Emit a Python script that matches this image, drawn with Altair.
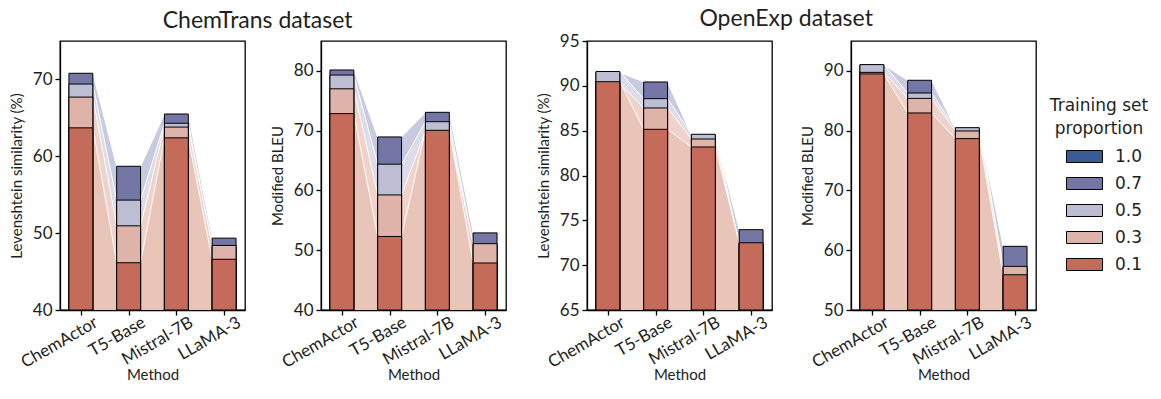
import json
import altair as alt
import pandas as pd

# ---------------- data ----------------
methods = ["ChemActor", "T5-Base", "Mistral-7B", "LLaMA-3"]
proportions = ["1.0", "0.7", "0.5", "0.3", "0.1"]
drawn_props = ["0.7", "0.5", "0.3", "0.1"]   # back to front

# values per proportion, ordered as in `methods`
chemtrans_lev = {
    "0.7": [70.8, 58.7, 65.5, 49.35],
    "0.5": [69.4, 54.3, 64.3, 48.2],
    "0.3": [67.7, 50.95, 63.8, 48.4],
    "0.1": [63.7, 46.15, 62.4, 46.6],
}
chemtrans_bleu = {
    "0.7": [80.15, 68.95, 73.07, 52.9],
    "0.5": [79.3, 64.4, 71.5, 50.9],
    "0.3": [77.0, 59.25, 69.9, 51.1],
    "0.1": [72.85, 52.3, 70.06, 47.86],
}
openexp_lev = {
    "0.7": [91.5, 90.43, 84.5, 73.96],
    "0.5": [91.6, 88.57, 84.6, 72.3],
    "0.3": [90.3, 87.53, 84.07, 72.4],
    "0.1": [90.46, 85.15, 83.18, 72.5],
}
openexp_bleu = {
    "0.7": [91.0, 88.43, 80.4, 60.65],
    "0.5": [91.05, 86.3, 80.5, 57.0],
    "0.3": [89.75, 85.4, 79.95, 57.3],
    "0.1": [89.5, 82.96, 78.67, 55.9],
}

# ---------------- styles ----------------
bar_colors = ["#3a5a98", "#7477a6", "#bdbdd4", "#deb3a9", "#c46b5a"]
flow_colors = {"0.7": "#c8cadf", "0.5": "#dcdcea", "0.3": "#efd3ca", "0.1": "#e8c4b9"}
FONT = "Lato"
TXT = "#231f20"
PW, PH = 185, 269
HALF = 0.25
XDOM = [-0.4375, 3.4375]

label_expr = json.dumps(methods) + "[datum.value]"


def panel(vals, ymin, ymax, step, ytitle):
    rank = {p: k for k, p in enumerate(drawn_props)}
    rows = []
    for p in drawn_props:
        for i, m in enumerate(methods):
            rows.append({"method": m, "idx": i, "prop": p, "value": vals[p][i], "rank": rank[p]})
    df = pd.DataFrame(rows)

    xaxis = alt.Axis(values=[0, 1, 2, 3], labelExpr=label_expr, labelAngle=-30,
                     labelAlign="right", labelBaseline="top", labelOffset=11, labelPadding=-1,
                     labelOverlap=False, tickSize=5, title="Method", titleY=57,
                     titleBaseline="top", titleFontSize=15)
    yaxis = alt.Axis(values=list(range(ymin, ymax + 1, step)), tickSize=5, title=ytitle,
                     titlePadding=8, labelPadding=3)
    xs = alt.Scale(domain=XDOM, nice=False, zero=False)
    ys = alt.Scale(domain=[ymin, ymax], nice=False, zero=False)

    layers = []
    for p in drawn_props:
        base = (alt.Chart(df)
                .transform_filter(alt.datum.prop == p)
                .transform_calculate(edges=f"[datum.idx - {HALF}, datum.idx + {HALF}]")
                .transform_flatten(["edges"]))
        enc = dict(x=alt.X("edges:Q", scale=xs, axis=xaxis),
                   y=alt.Y("value:Q", scale=ys, axis=yaxis))
        layers.append(base.mark_area(fill=flow_colors[p]).encode(y2=alt.datum(ymin), **enc))
        layers.append(base.mark_line(color="white", strokeWidth=1).encode(**enc))

    bars = (alt.Chart(df)
            .transform_calculate(xa=f"datum.idx - {HALF}", xb=f"datum.idx + {HALF}")
            .mark_bar(stroke="black", strokeWidth=1)
            .encode(
                x=alt.X("xa:Q", scale=xs, axis=xaxis),
                x2="xb:Q",
                y=alt.Y("value:Q", scale=ys, axis=yaxis, stack=None),
                y2=alt.datum(ymin),
                color=alt.Color("prop:N", scale=alt.Scale(domain=proportions, range=bar_colors),
                                legend=alt.Legend(
                                    title=["Training set", "proportion"],
                                    orient="none", legendX=990, legendY=57,
                                    titleFont="DejaVu Sans", labelFont="DejaVu Sans",
                                    titleFontSize=17, labelFontSize=17, titleFontWeight="normal",
                                    titleAnchor="middle", titleAlign="center", titleLineHeight=23,
                                    titleColor=TXT, labelColor=TXT, titlePadding=0,
                                    symbolType="M-1,-0.333H1V0.333H-1Z", symbolSize=1296,
                                    symbolStrokeColor="black", symbolStrokeWidth=1,
                                    symbolOpacity=1, symbolOffset=11, labelOffset=12,
                                    rowPadding=0)),
                order=alt.Order("rank:Q"),
            ))
    layers.append(bars)
    return alt.layer(*layers).properties(width=PW, height=PH)


p1 = panel(chemtrans_lev, 40, 75, 10, "Levenshtein similarity (%)")
p2 = panel(chemtrans_bleu, 40, 85, 10, "Modified BLEU")
p3 = panel(openexp_lev, 65, 95, 5, "Levenshtein similarity (%)")
p4 = panel(openexp_bleu, 50, 95, 10, "Modified BLEU")

g1 = alt.hconcat(p1, p2, spacing=23).properties(
    title=alt.Title("ChemTrans dataset", fontSize=23, font=FONT, fontWeight="normal",
                    anchor="middle", color=TXT, offset=7))
g2 = alt.hconcat(p3, p4, spacing=26).properties(
    title=alt.Title("OpenExp dataset", fontSize=23, font=FONT, fontWeight="normal",
                    anchor="middle", color=TXT, offset=0))

chart = (alt.hconcat(g1, g2, spacing=28)
         .resolve_scale(color="shared")
         .properties(padding={"left": 0, "top": 0, "right": 0, "bottom": 0})
         .configure_view(stroke="black", strokeWidth=1.3)
         .configure_axis(grid=False, domainColor="black", tickColor="black", domainWidth=1.3,
                         tickWidth=1.3, labelFont=FONT, titleFont=FONT, labelFontSize=17,
                         titleFontSize=15, titleFontWeight="normal", labelColor=TXT,
                         titleColor=TXT, zindex=1))

chart.save("out.html", embed_options={"renderer": "svg", "actions": False})
